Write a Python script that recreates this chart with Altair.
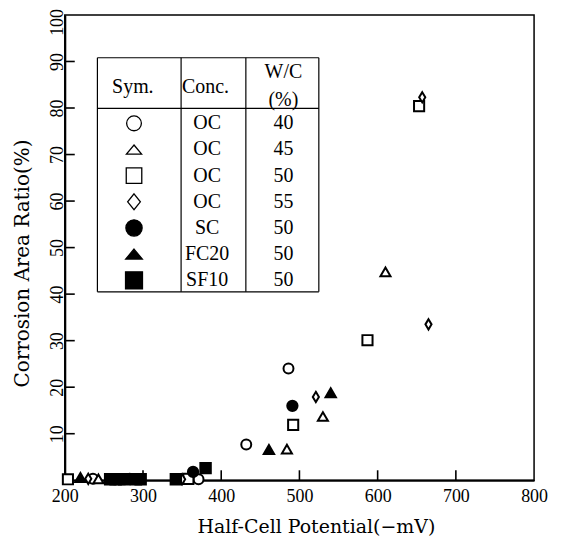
import altair as alt
import pandas as pd

# ---------------- data ----------------
series = ["OC40", "OC45", "OC50", "OC55", "SC", "FC20", "SF10"]

oc40_x = [236, 283, 371, 432, 486]
oc40_y = [0.3, 0.3, 0.2, 7.7, 24.0]
oc45_x = [243, 484, 530, 610]
oc45_y = [0.3, 6.7, 13.7, 44.8]
oc50_x = [204, 270, 358, 492, 587, 653]
oc50_y = [0.2, 0.2, 0.3, 11.9, 30.1, 80.4]
oc55_x = [230, 350, 521, 657, 665]
oc55_y = [0.3, 0.2, 17.9, 82.3, 33.5]
sc_x = [364, 491]
sc_y = [1.8, 16.0]
fc20_x = [220, 461, 540]
fc20_y = [0.6, 6.6, 18.8]
sf10_x = [258, 265, 276, 291, 297, 342, 380]
sf10_y = [0.2, 0.2, 0.2, 0.2, 0.2, 0.2, 2.6]

legend_conc = ["OC", "OC", "OC", "OC", "SC", "FC20", "SF10"]
legend_wc = ["40", "45", "50", "55", "50", "50", "50"]
header_texts = ["Sym.", "Conc.", "W/C", "(%)"]

x_tick_labels = [200, 300, 400, 500, 600, 700, 800]
y_tick_labels = [10, 20, 30, 40, 50, 60, 70, 80, 90, 100]
x_inner_ticks = [300, 400, 500, 600, 700]
y_inner_ticks = [10, 20, 30, 40, 50, 60, 70, 80, 90]

# ---------------- tables ----------------
xs_all = [oc40_x, oc45_x, oc50_x, oc55_x, sc_x, fc20_x, sf10_x]
ys_all = [oc40_y, oc45_y, oc50_y, oc55_y, sc_y, fc20_y, sf10_y]
rows = []
for s, xs, ys in zip(series, xs_all, ys_all):
    for a, b in zip(xs, ys):
        rows.append({"series": s, "x": a, "y": b})
pts = pd.DataFrame(rows)

# legend table layout (in data units of the plot)
t_left, t_sep1, t_sep2, t_right = 241.7, 348.7, 431.5, 524.8
t_top, t_head, t_bottom = 90.8, 79.9, 40.5
row0, row_step = 76.7, 5.62
c1, c2, c3 = 288.5, 382.0, 479.5

leg_sym = pd.DataFrame({
    "series": series,
    "x": [c1] * len(series),
    "y": [row0 - i * row_step for i in range(len(series))],
})
txt_rows = []
for i, (cc, wc) in enumerate(zip(legend_conc, legend_wc)):
    yy = row0 - i * row_step
    txt_rows.append({"x": c2, "y": yy, "t": cc})
    txt_rows.append({"x": c3, "y": yy, "t": wc})
txt_rows.append({"x": 287.0, "y": 84.6, "t": header_texts[0]})
txt_rows.append({"x": 380.0, "y": 84.6, "t": header_texts[1]})
txt_rows.append({"x": c3, "y": 87.7, "t": header_texts[2]})
txt_rows.append({"x": c3, "y": 81.8, "t": header_texts[3]})
txt = pd.DataFrame(txt_rows)

hlines = pd.DataFrame({"x": [t_left] * 3, "x2": [t_right] * 3,
                       "y": [t_top, t_head, t_bottom]})
vlines = pd.DataFrame({"x": [t_left, t_sep1, t_sep2, t_right],
                       "y": [t_bottom] * 4, "y2": [t_top] * 4})

# ---------------- scales / axes ----------------
SERIF = "Liberation Serif"
TSERIF = "DejaVu Serif"
xscale = alt.Scale(domain=[200, 800], nice=False, zero=False)
yscale = alt.Scale(domain=[0, 100], nice=False, zero=False)
xaxis = alt.Axis(values=x_tick_labels, ticks=False, grid=False, domain=True,
                 domainColor="black", domainWidth=2, labelFont=SERIF,
                 labelFontSize=18, labelColor="black", labelPadding=7,
                 title="Half-Cell Potential(\u2212mV)", titleFont=TSERIF,
                 titleFontWeight="normal", titleFontSize=19, titleColor="black",
                 titleX=252, titleY=46, titleBaseline="middle", titleAlign="center",
                 labelFlush=False)
yaxis = alt.Axis(values=y_tick_labels, ticks=False, grid=False, domain=True,
                 domainColor="black", domainWidth=2, labelFont=SERIF,
                 labelFontSize=18, labelColor="black", labelPadding=-2,
                 labelAngle=270, labelFlush=False,
                 labelOffset={"condition": {"test": "datum.value == 100", "value": 7},
                              "value": 0},
                 title="Corrosion Area Ratio(%)", titleFont=TSERIF,
                 titleFontWeight="normal", titleFontSize=20, titleColor="black",
                 titleAngle=270, titleX=-42, titleY=249, titleBaseline="middle",
                 titleAlign="center")

def X(f="x"):
    return alt.X(f"{f}:Q", scale=xscale, axis=xaxis)

def Y(f="y"):
    return alt.Y(f"{f}:Q", scale=yscale, axis=yaxis)

diamond_data = "M0,-1L0.6,0L0,1L-0.6,0Z"
diamond_leg = "M0,-1L0.8,0L0,1L-0.8,0Z"
tri_leg = "M0,-0.6L1,0.6L-1,0.6Z"

fill_range = ["white", "white", "white", "white", "black", "black", "black"]

points = alt.Chart(pts).mark_point(filled=True, stroke="black", strokeWidth=2,
                                   opacity=1).encode(
    x=X(), y=Y(),
    shape=alt.Shape("series:N", scale=alt.Scale(domain=series, range=[
        "circle", "triangle-up", "square", diamond_data, "circle", "triangle-up", "square"]),
        legend=None),
    fill=alt.Fill("series:N", scale=alt.Scale(domain=series, range=fill_range), legend=None),
    size=alt.Size("series:N", scale=alt.Scale(domain=series, range=[
        100, 110, 80, 180, 75, 90, 90]), legend=None),
)

legend_pts = alt.Chart(leg_sym).mark_point(filled=True, stroke="black", strokeWidth=1.3,
                                           opacity=1).encode(
    x=X(), y=Y(),
    shape=alt.Shape("series:N", scale=alt.Scale(domain=series, range=[
        "circle", tri_leg, "square", diamond_leg, "circle", tri_leg, "square"]),
        legend=None),
    fill=alt.Fill("series:N", scale=alt.Scale(domain=series, range=fill_range), legend=None),
    size=alt.Size("series:N", scale=alt.Scale(domain=series, range=[
        220, 289, 169, 361, 290, 289, 225]), legend=None),
)

legend_text = alt.Chart(txt).mark_text(font=SERIF, fontSize=20, color="black",
                                       align="center", baseline="middle").encode(
    x=X(), y=Y(), text="t:N")

h_rules = alt.Chart(hlines).mark_rule(color="black", strokeWidth=1.2).encode(
    x=X(), x2="x2:Q", y=Y())
v_rules = alt.Chart(vlines).mark_rule(color="black", strokeWidth=1.2).encode(
    x=X(), y=Y(), y2="y2:Q")

xt = alt.Chart(pd.DataFrame({"v": x_inner_ticks})).mark_rule(
    color="black", strokeWidth=1.6).encode(
    x=X("v"), y=alt.value(467), y2=alt.value(457))
yt = alt.Chart(pd.DataFrame({"v": y_inner_ticks})).mark_rule(
    color="black", strokeWidth=1.6).encode(
    y=Y("v"), x=alt.value(0), x2=alt.value(10))

chart = alt.layer(xt, yt, h_rules, v_rules, legend_text, legend_pts, points).resolve_scale(
    shape="independent", fill="independent", size="independent"
).properties(
    width=471, height=467,
    padding={"left": 57, "top": 6, "right": 20, "bottom": 58},
    autosize=alt.AutoSizeParams(type="none"),
    background="white",
).configure_view(stroke="black", strokeWidth=1.5)

chart.save("out.html", embed_options={"renderer": "svg", "actions": False})
